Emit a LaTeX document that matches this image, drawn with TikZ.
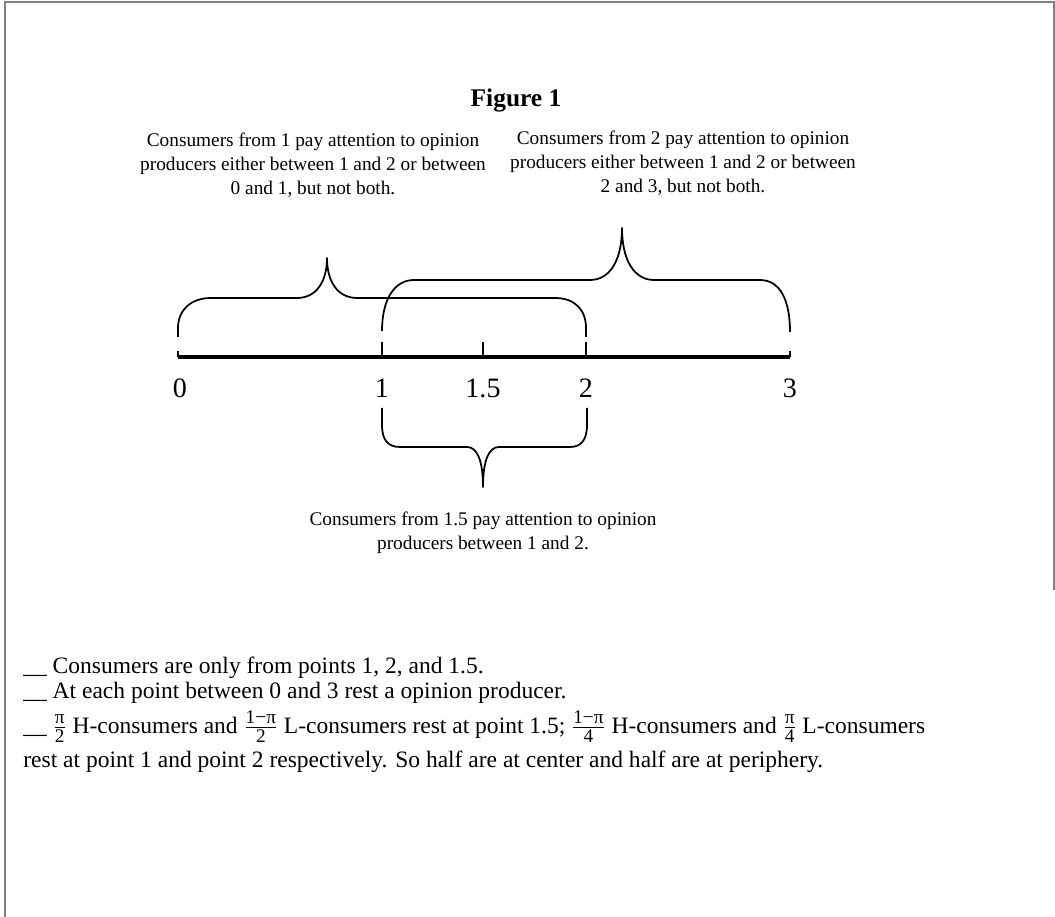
\documentclass[tikz,border=0pt]{standalone}
\usepackage{amsmath}
\usepackage{fontspec}
\setmainfont{Liberation Serif}
\usetikzlibrary{positioning}

% small fractions set in the text font
\newcommand{\share}[2]{\ensuremath{\genfrac{}{}{0.6pt}{}{\mbox{\fontsize{11}{11}\selectfont #1}}{\mbox{\fontsize{11}{11}\selectfont #2}}}}
% line gaps are set by hand below
\setlength{\lineskiplimit}{-6pt}

\begin{document}
\begin{tikzpicture}[x=0.57pt, y=-0.57pt,
  frame/.style={draw=gray, line width=1.1pt},
  axis/.style={line width=2.2pt},
  tick/.style={line width=0.8pt},
  brace/.style={line width=1pt, line join=round},
  num/.style={font=\fontsize{16}{19}\selectfont},
  note/.style={font=\fontsize{11}{13.7}\selectfont, align=center},
  legend/.style={font=\fontsize{13.4}{14.2}\selectfont, align=left, anchor=north west, inner sep=0pt}
]
\useasboundingbox (0,0) rectangle (1055,917);
% box round the figure
\draw[frame] (5,917) -- (5,2) -- (1054,2) -- (1054,590);

\node[font=\fontsize{14.5}{16}\selectfont\bfseries] (title) at (516,100) {Figure 1};

% points on the line
\coordinate (p0) at (178,357);
\coordinate (p1) at (382,357);
\coordinate (p15) at (483,357);
\coordinate (p2) at (586,357);
\coordinate (p3) at (790,357);

\draw[axis] (p0) -- (p3);
\draw[tick] (p0) -- ++(0,-6);
\draw[tick] (p1) -- ++(0,-15);
\draw[tick] (p15) -- ++(0,-15);
\draw[tick] (p2) -- ++(0,-15);
\draw[tick] (p3) -- ++(0,-6);

\node[num] (n0) at (180,388) {0};
\node[num] (n1) at (382,388) {1};
\node[num] (n15) at (483,388) {1.5};
\node[num] (n2) at (586,388) {2};
\node[num] (n3) at (790,388) {3};

% brace over 0--2
\draw[brace] (178,337) -- (178,328) .. controls (178,310) and (191,298) .. (211,298)
  -- (297,298) .. controls (316,298) and (327,282) .. (327,258)
  .. controls (327,282) and (338,298) .. (357,298)
  -- (555,298) .. controls (575,298) and (586,310) .. (586,328) -- (586,337);
% brace over 1--3
\draw[brace] (382,331) .. controls (382,300) and (394,280) .. (414,280)
  -- (590,280) .. controls (610,280) and (622,260) .. (622,228)
  .. controls (622,260) and (634,280) .. (654,280)
  -- (760,280) .. controls (780,280) and (790,300) .. (790,332);
% brace under 1--2
\draw[brace] (382,408) -- (382,425) .. controls (382,440) and (388,447) .. (400,447)
  -- (467,447) .. controls (477,447) and (483,460) .. (483,487)
  .. controls (483,460) and (489,447) .. (499,447)
  -- (570,447) .. controls (581,447) and (587,440) .. (587,425) -- (587,408);

\node[note] (left) at (313,165) {Consumers from 1 pay attention to opinion\\producers either between 1 and 2 or between\\0 and 1, but not both.};
\node[note] (right) at (683,163) {Consumers from 2 pay attention to opinion\\producers either between 1 and 2 or between\\2 and 3, but not both.};
\node[note] (middle) at (483,533) {Consumers from 1.5 pay attention to opinion\\producers between 1 and 2.};

\node[legend] (facts) at (23,657) {\_\_ Consumers are only from points 1, 2, and 1.5.\\
\_\_ At each point between 0 and 3 rest a opinion producer.\\[5.5pt]
\_\_ \share{π}{2} H-consumers and \share{1−π}{2} L-consumers rest at point 1.5; \share{1−π}{4} H-consumers and \share{π}{4} L-consumers\\[5.5pt]
rest at point 1 and point 2 respectively. So half are at center and half are at periphery.};
\end{tikzpicture}
\end{document}
